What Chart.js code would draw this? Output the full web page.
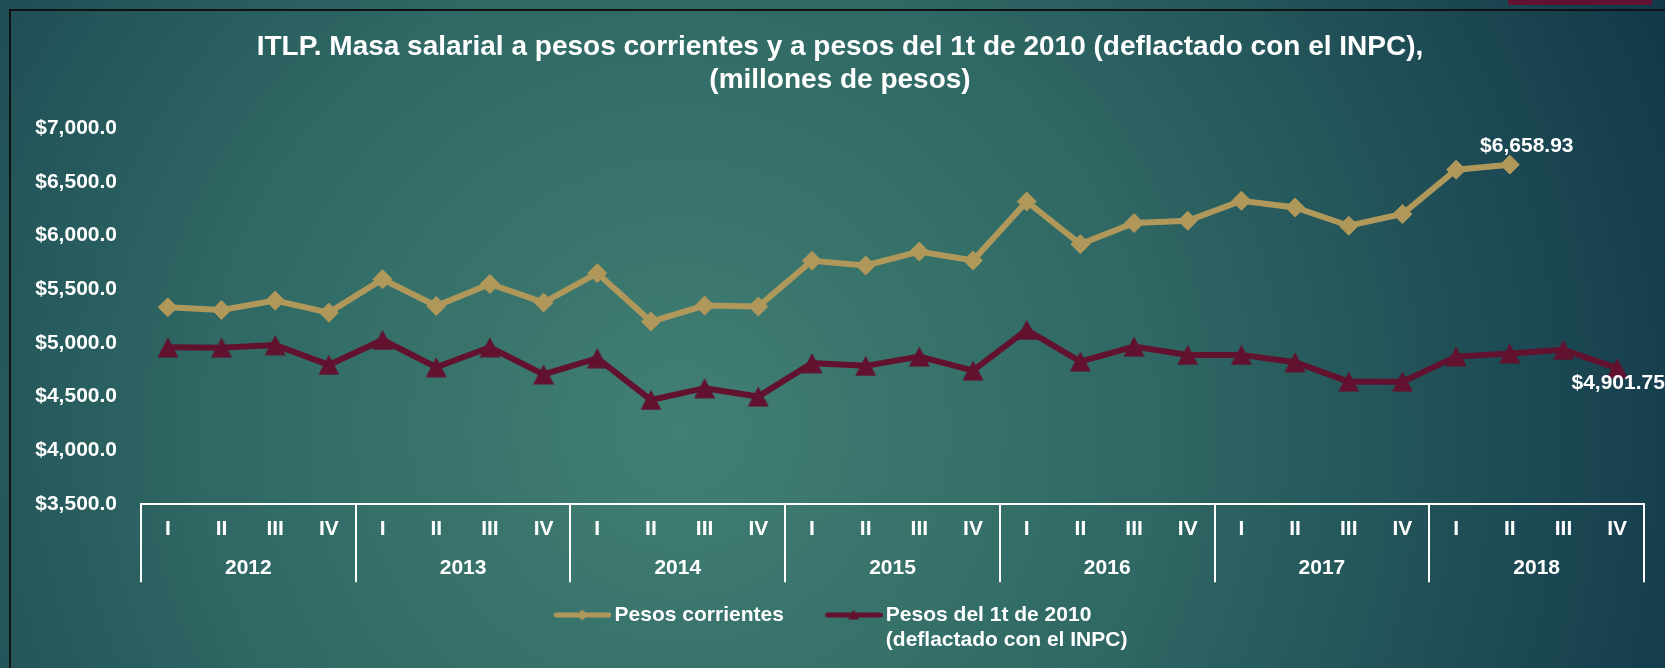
<!DOCTYPE html>
<html>
<head>
<meta charset="utf-8">
<script src="https://cdn.jsdelivr.net/npm/chart.js@4.4.0/dist/chart.umd.min.js"></script>
<style>
  html, body { margin: 0; padding: 0; background: #1d4a54; }
  #wrap { width: 1665px; height: 668px; position: relative; }
</style>
</head>
<body>
<div id="wrap"><canvas id="chart"></canvas></div>
<script>
const years = ['2012', '2013', '2014', '2015', '2016', '2017', '2018']
const quarters = ['I', 'II', 'III', 'IV']

const pesosCorrientes = [
  5331, 5306, 5393, 5281,
  5592, 5343, 5548, 5375,
  5649, 5198, 5347, 5338,
  5764, 5720, 5850, 5767,
  6316, 5919, 6115, 6136,
  6323, 6260, 6090, 6199,
  6612, 6658.93, null, null,
]
const pesos2010 = [
  4958, 4955, 4980, 4795,
  5027, 4773, 4959, 4706,
  4857, 4469, 4578, 4500,
  4811, 4786, 4872, 4742,
  5121, 4826, 4965, 4888,
  4888, 4820, 4639, 4639,
  4872, 4901.75, 4935, 4764,
]
const seriesNames = ['Pesos corrientes', ['Pesos del 1t de 2010', '(deflactado con el INPC)']]
const titleLines = [
  'ITLP. Masa salarial a pesos corrientes y a pesos del 1t de 2010 (deflactado con el INPC),',
  '(millones de pesos)',
]
const yRange = { min: 3500, max: 7000, step: 500 }
// value callouts hanging from a point of a series
const callouts = [
  { dataset: 0, index: 25, text: '$6,658.93' },
  { dataset: 1, index: 27, text: '$4,901.75' },
]

const FONT = "'Liberation Sans', Arial, sans-serif"
const GOLD = '#b0985b'
const MAROON = '#62112f'
const LEGEND_BOX = 63.5
const LEGEND_PAD = 28

// line + marker swatch for the legend, drawn off-centre so the line sits near the text
function legendIcon(color, marker) {
  const c = document.createElement('canvas')
  c.width = 78
  c.height = 16
  const g = c.getContext('2d')
  g.strokeStyle = color
  g.fillStyle = color
  g.lineWidth = 5
  g.lineCap = 'round'
  g.beginPath()
  g.moveTo(23, 8)
  g.lineTo(75.5, 8)
  g.stroke()
  const mx = 49
  g.beginPath()
  if (marker === 'diamond') {
    g.moveTo(mx, 2.5); g.lineTo(mx + 5.5, 8); g.lineTo(mx, 13.5); g.lineTo(mx - 5.5, 8)
  } else {
    g.moveTo(mx, 2.5); g.lineTo(mx + 5.5, 12.5); g.lineTo(mx - 5.5, 12.5)
  }
  g.closePath()
  g.fill()
  return c
}

function triangleMarker(color) {
  const c = document.createElement('canvas')
  c.width = 22
  c.height = 21
  const g = c.getContext('2d')
  g.fillStyle = color
  g.beginPath()
  g.moveTo(11, 0.5); g.lineTo(21.5, 20.5); g.lineTo(0.5, 20.5)
  g.closePath()
  g.fill()
  return c
}

const legendIcons = [legendIcon(GOLD, 'diamond'), legendIcon(MAROON, 'triangle')]

const backdrop = {
  id: 'backdrop',
  beforeDraw(chart) {
    const { ctx, width, height } = chart
    const g = ctx.createRadialGradient(680, 430, 0, 680, 430, 1050)
    g.addColorStop(0, '#417f73')
    g.addColorStop(0.45, '#2f6864')
    g.addColorStop(1, '#133a4b')
    ctx.save()
    ctx.fillStyle = g
    ctx.fillRect(0, 0, width, height)
    // slide frame and corner tab
    ctx.fillStyle = '#111111'
    ctx.fillRect(9, 9, 2, height)
    ctx.fillRect(9, 9, width, 2)
    ctx.fillStyle = '#5f1232'
    ctx.fillRect(1508, 0, 144, 5)
    ctx.restore()
  },
}

const yearLines = {
  id: 'yearLines',
  afterDraw(chart) {
    const { ctx, chartArea } = chart
    const x2 = chart.scales.x2
    const bottom = x2.top + 27
    ctx.save()
    ctx.strokeStyle = '#ffffff'
    ctx.lineWidth = 2
    for (let i = 0; i <= years.length; i++) {
      const px = Math.round(x2.getPixelForValue(i - 0.5))
      ctx.beginPath()
      ctx.moveTo(px, chartArea.bottom)
      ctx.lineTo(px, bottom)
      ctx.stroke()
    }
    ctx.restore()
  },
}

const calloutLabels = {
  id: 'calloutLabels',
  afterDatasetsDraw(chart) {
    const { ctx } = chart
    ctx.save()
    ctx.font = 'bold 21px ' + FONT
    ctx.fillStyle = '#ffffff'
    ctx.textAlign = 'center'
    ctx.textBaseline = 'middle'
    callouts.forEach((c) => {
      const pt = chart.getDatasetMeta(c.dataset).data[c.index]
      const [dx, dy] = c.dataset === 0 ? [17, -18] : [1, 15]
      ctx.fillText(c.text, pt.x + dx, pt.y + dy)
    })
    ctx.restore()
  },
}

// the legend reserves one text line per row and measures the two-line label as one
// long string; give it room below and re-measure by the longest line so it centres
const legendRoom = {
  id: 'legendRoom',
  beforeLayout(chart) {
    const legend = chart.legend
    if (legend && !legend.baseFit) {
      legend.baseFit = legend.fit
      legend.fit = function () {
        this.baseFit()
        this.height += 20
        this.ctx.save()
        this.ctx.font = 'bold 21px ' + FONT
        const total = this.legendItems.reduce((sum, item) => {
          const widest = Math.max(...[].concat(item.text).map((t) => this.ctx.measureText(t).width))
          return sum + LEGEND_BOX + 10.5 + widest + LEGEND_PAD
        }, 0)
        this.ctx.restore()
        this.lineWidths = [total + 12] // +12 nudges the row a few px left
      }
    }
  },
}

Chart.defaults.font.family = FONT
Chart.defaults.font.weight = 'bold'
Chart.defaults.font.size = 21
Chart.defaults.color = '#ffffff'

const ctx = document.getElementById('chart').getContext('2d')

new Chart(ctx, {
  type: 'line',
  data: {
    labels: years.flatMap(() => quarters),
    datasets: [
      {
        label: 'Pesos corrientes',
        data: pesosCorrientes,
        borderColor: GOLD,
        backgroundColor: GOLD,
        borderWidth: 6,
        tension: 0,
        pointStyle: 'rectRot',
        pointRadius: 9.5,
        pointBorderWidth: 1,
        pointBackgroundColor: GOLD,
        pointBorderColor: GOLD,
      },
      {
        label: 'Pesos del 1t de 2010 (deflactado con el INPC)',
        data: pesos2010,
        borderColor: MAROON,
        backgroundColor: MAROON,
        borderWidth: 6,
        tension: 0,
        pointStyle: triangleMarker(MAROON),
        pointRadius: 10,
      },
    ],
  },
  options: {
    responsive: true,
    maintainAspectRatio: false,
    animation: false,
    layout: { padding: { left: 30, right: 15, top: 0, bottom: 12.5 } },
    plugins: {
      title: {
        display: true,
        text: titleLines,
        color: '#ffffff',
        font: { size: 28, weight: 'bold', lineHeight: 33 / 28 },
        padding: { top: 31, bottom: 31 },
      },
      legend: {
        position: 'bottom',
        labels: {
          usePointStyle: true,
          pointStyleWidth: LEGEND_BOX,
          padding: LEGEND_PAD,
          color: '#ffffff',
          font: { size: 21, weight: 'bold' },
          generateLabels: (chart) =>
            chart.data.datasets.map((ds, i) => ({
              text: seriesNames[i],
              fontColor: '#ffffff',
              fillStyle: ds.borderColor,
              strokeStyle: ds.borderColor,
              lineWidth: 0,
              pointStyle: legendIcons[i],
              hidden: false,
              datasetIndex: i,
            })),
        },
      },
      tooltip: { enabled: false },
    },
    scales: {
      x: {
        type: 'category',
        offset: true,
        grid: { display: false, drawTicks: false },
        border: { display: true, color: '#ffffff', width: 2 },
        ticks: { padding: 13, autoSkip: false, maxRotation: 0 },
      },
      x2: {
        type: 'category',
        position: 'bottom',
        labels: years,
        offset: true,
        weight: 1,
        grid: { display: false, drawTicks: false },
        border: { display: false },
        ticks: { padding: 0, autoSkip: false, maxRotation: 0 },
        afterFit: (scale) => { scale.height = 21.3 },
      },
      y: {
        min: yRange.min,
        max: yRange.max,
        grid: { display: false, drawTicks: false },
        border: { display: false },
        ticks: {
          stepSize: yRange.step,
          padding: 24,
          callback: (v) => '$' + v.toLocaleString('en-US', { minimumFractionDigits: 1, maximumFractionDigits: 1 }),
        },
        afterFit: (scale) => { scale.width = 111 },
      },
      // empty strip on the right so the plot ends where the reference does
      yRight: {
        position: 'right',
        grid: { display: false, drawTicks: false },
        border: { display: false },
        ticks: { display: false },
        afterFit: (scale) => { scale.width = 6 },
      },
    },
  },
  plugins: [backdrop, yearLines, calloutLabels, legendRoom],
})
</script>
</body>
</html>
